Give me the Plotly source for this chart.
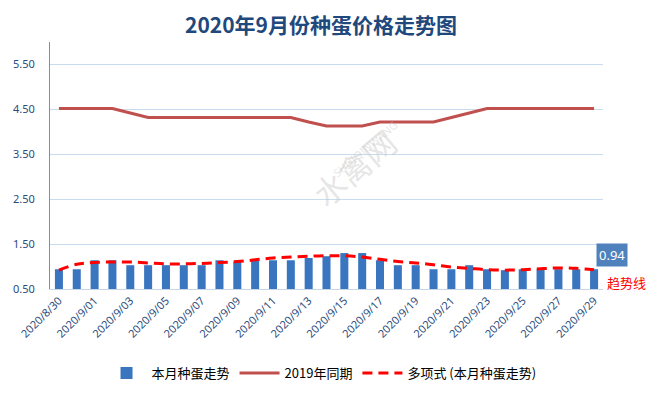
import plotly.graph_objects as go

dates = ["2020/8/30", "2020/8/31", "2020/9/01", "2020/9/02", "2020/9/03", "2020/9/04",
         "2020/9/05", "2020/9/06", "2020/9/07", "2020/9/08", "2020/9/09", "2020/9/10",
         "2020/9/11", "2020/9/12", "2020/9/13", "2020/9/14", "2020/9/15", "2020/9/16",
         "2020/9/17", "2020/9/18", "2020/9/19", "2020/9/20", "2020/9/21", "2020/9/22",
         "2020/9/23", "2020/9/24", "2020/9/25", "2020/9/26", "2020/9/27", "2020/9/28",
         "2020/9/29"]

this_month = [0.94, 0.94, 1.14, 1.14, 1.03, 1.03, 1.03, 1.03, 1.03, 1.14, 1.11,
              1.14, 1.14, 1.14, 1.19, 1.23, 1.30, 1.30, 1.14, 1.03, 1.03, 0.94,
              0.94, 1.03, 0.94, 0.92, 0.94, 0.94, 0.94, 0.94, 0.94]

last_year = [4.52, 4.52, 4.52, 4.52, 4.42, 4.32, 4.32, 4.32, 4.32, 4.32, 4.32,
             4.32, 4.32, 4.32, 4.22, 4.13, 4.13, 4.13, 4.22, 4.22, 4.22, 4.22,
             4.32, 4.42, 4.52, 4.52, 4.52, 4.52, 4.52, 4.52, 4.52]

trend = [0.92, 1.05, 1.09, 1.10, 1.10, 1.08, 1.06, 1.06, 1.07, 1.09, 1.11,
         1.15, 1.19, 1.21, 1.23, 1.24, 1.24, 1.21, 1.16, 1.11, 1.08, 1.04,
         0.99, 0.96, 0.93, 0.92, 0.93, 0.95, 0.97, 0.96, 0.93]

tick_dates = dates[::2]
y_ticks = [0.5, 1.5, 2.5, 3.5, 4.5, 5.5]

label_font = "Noto Sans, Noto Sans CJK SC, sans-serif"
cjk_font = "Noto Sans CJK SC, sans-serif"

fig = go.Figure()
fig.add_trace(go.Bar(
    x=dates, y=this_month, name="本月种蛋走势",
    marker=dict(color="#3a76c0", line=dict(width=0)),
    width=0.45,
))
fig.add_trace(go.Scatter(
    x=dates, y=last_year, name="2019年同期", mode="lines",
    line=dict(color="#c0504d", width=3),
))
fig.add_trace(go.Scatter(
    x=dates, y=trend, name="多项式 (本月种蛋走势)", mode="lines",
    line=dict(color="#ff0000", width=3, dash="10px,6px", shape="spline"),
))

fig.add_annotation(
    x=dates[-1], y=this_month[-1], xref="x", yref="y",
    text=f"{this_month[-1]:.2f}", showarrow=False,
    xshift=18, yshift=14,
    font=dict(color="white", size=13, family=label_font),
    bgcolor="#4f81bd", borderpad=2,
)
fig.add_annotation(
    x=dates[-1], y=this_month[-1], xref="x", yref="y",
    text="趋势线", showarrow=False,
    xshift=32, yshift=-13,
    font=dict(color="#ff0000", size=13, family=cjk_font),
)
# faint watermark
fig.add_annotation(
    x=0.55, y=0.70, xref="paper", yref="paper",
    text="水禽网", showarrow=False, textangle=-40,
    font=dict(color="rgba(200,200,200,0.45)", size=32, family=cjk_font),
)
fig.add_annotation(
    x=0.57, y=0.57, xref="paper", yref="paper",
    text="SHUIQINWANG", showarrow=False, textangle=-40,
    font=dict(color="rgba(200,200,200,0.45)", size=11, family=label_font),
)

fig.update_layout(
    width=652, height=394,
    margin=dict(l=50, r=49, t=42, b=105),
    paper_bgcolor="white", plot_bgcolor="white",
    title=dict(text="<b>2020年9月份种蛋价格走势图</b>", x=321 / 652, xanchor="center",
               xref="container", y=1 - 26 / 394, yanchor="middle",
               font=dict(size=21, color="#1f497d", family=cjk_font)),
    showlegend=True,
    legend=dict(orientation="h", x=0.491, xanchor="center", yref="container",
                y=1 - 373 / 394, yanchor="middle",
                font=dict(size=13, color="black", family=cjk_font),
                itemwidth=40),
)
fig.update_xaxes(
    type="category", tickmode="array", tickvals=tick_dates, ticktext=tick_dates,
    tickangle=-45, tickfont=dict(size=11, color="#2a4b7c", family=label_font),
    showline=True, linecolor="#c9d6e6", linewidth=1, showgrid=False,
    ticks="", range=[-0.5, len(dates) - 0.5], automargin=False,
)
fig.update_yaxes(
    range=[0.5, 6.0], tickmode="array", tickvals=y_ticks,
    ticktext=[f"{v:.2f}" for v in y_ticks],
    tickfont=dict(size=11, color="#2a4b7c", family=label_font),
    showline=True, linecolor="#8c8c8c", linewidth=1,
    showgrid=True, gridcolor="#c9dcef", gridwidth=1,
    ticklabelstandoff=12, zeroline=False, automargin=False,
)

fig.write_html("out.html", config={"displayModeBar": False},
               post_script="document.body.style.margin='0px';")
